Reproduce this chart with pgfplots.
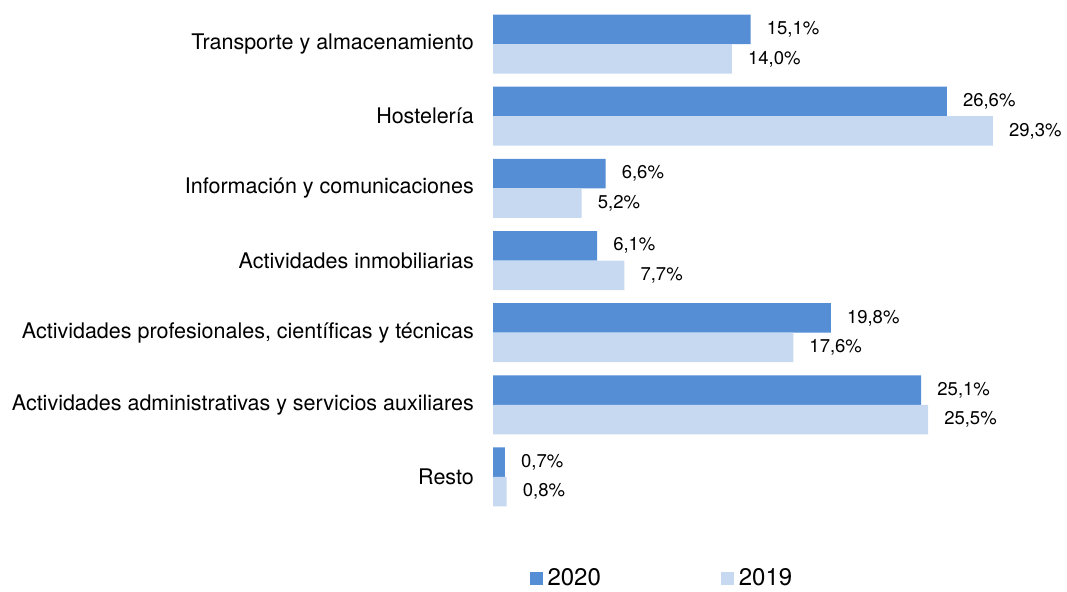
\documentclass[border=0pt]{standalone}
\usepackage{pgfplots}
\pgfplotsset{compat=1.18}
\usepackage{fontspec}
\setmainfont{TeX Gyre Heros}
\definecolor{c2020}{HTML}{558ED5}
\definecolor{c2019}{HTML}{C6D9F1}

\begin{document}
\begin{tikzpicture}[x=1pt,y=1pt]
\path (0,0) rectangle (1067,-590);
\begin{axis}[
    at={(493pt,-8pt)}, anchor=north west,
    scale only axis,
    width=563pt, height=505pt,
    xmin=0, xmax=33,
    ymin=-0.5, ymax=6.5,
    y dir=reverse,
    xbar, bar width=29.5pt,
    axis line style={draw=none},
    xtick=\empty,
    ytick={0,1,2,3,4,5,6},
    yticklabels={Transporte y almacenamiento, Hostelería, Información y comunicaciones,
        Actividades inmobiliarias, {Actividades profesionales, científicas y técnicas},
        Actividades administrativas y servicios auxiliares, Resto},
    major tick length=0pt,
    /pgf/number format/assume math mode=true,
    yticklabel style={font=\fontsize{21.5}{23}\selectfont, anchor=east, inner sep=0pt, xshift=-19pt},
    nodes near coords={\pgfmathprintnumber[fixed, fixed zerofill, precision=1, use comma]{\pgfplotspointmeta}\%},
    nodes near coords style={font=\fontsize{18.5}{20}\selectfont, anchor=west, inner sep=0pt, xshift=16pt},
    point meta=explicit,
    legend style={at={(axis description cs:0.3,-0.129)}, anchor=center, draw=none, legend columns=2,
        font=\fontsize{24}{26}\selectfont,
        /tikz/every even column/.append style={column sep=118pt}},
    legend image code/.code={\fill[#1] (0pt,-6.5pt) rectangle (13pt,6.5pt); \path (16pt,0pt);},
]
\addplot[fill=c2020, draw=none, bar shift=14.75pt] coordinates {
    (15.1,0) [15.1] (26.6,1) [26.6] (6.6,2) [6.6] (6.1,3) [6.1]
    (19.8,4) [19.8] (25.1,5) [25.1] (0.7,6) [0.7]
};
\addplot[fill=c2019, draw=none, bar shift=-14.75pt] coordinates {
    (14.0,0) [14.0] (29.3,1) [29.3] (5.2,2) [5.2] (7.7,3) [7.7]
    (17.6,4) [17.6] (25.5,5) [25.5] (0.8,6) [0.8]
};
\legend{2020, 2019}
\end{axis}
\end{tikzpicture}
\end{document}
